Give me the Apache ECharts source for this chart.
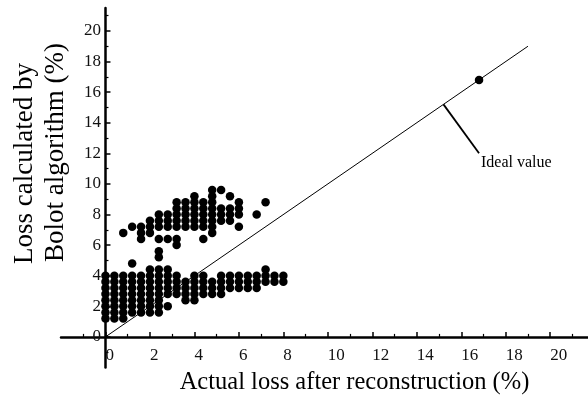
<!DOCTYPE html>
<html>
<head>
<meta charset="utf-8">
<script src="https://cdn.jsdelivr.net/npm/echarts@6/dist/echarts.min.js"></script>
<style>
  html, body { margin: 0; padding: 0; background: #fff; }
  #chart { width: 588px; height: 401px; }
</style>
</head>
<body>
<div id="chart"></div>
<script>
// measured columns of dots (x in %), each with its own list of y values
const colX = [0, 0.4, 0.8, 1.2, 1.6, 2.0, 2.4, 2.8, 3.2, 3.6, 4.0, 4.4, 4.8, 5.2, 5.6, 6.0, 6.4, 6.8, 7.2, 7.6, 8.0]
// lower band of points
const lowerY = [
  [1.2, 1.6, 2.0, 2.4, 2.8, 3.2, 3.6, 4.0],
  [1.2, 1.6, 2.0, 2.4, 2.8, 3.2, 3.6, 4.0],
  [1.2, 1.6, 2.0, 2.4, 2.8, 3.2, 3.6, 4.0],
  [1.6, 2.0, 2.4, 2.8, 3.2, 3.6, 4.0],
  [1.6, 2.0, 2.4, 2.8, 3.2, 3.6, 4.0],
  [1.6, 2.0, 2.4, 2.8, 3.2, 3.6, 4.0, 4.4],
  [1.6, 2.0, 2.4, 2.8, 3.2, 3.6, 4.0, 4.4],
  [2.0, 2.8, 3.2, 3.6, 4.0, 4.4],
  [2.8, 3.2, 3.6, 4.0],
  [2.4, 2.8, 3.2, 3.6],
  [2.4, 2.8, 3.2, 3.6, 4.0],
  [2.8, 3.2, 3.6, 4.0],
  [2.8, 3.2, 3.6],
  [2.8, 3.2, 3.6, 4.0],
  [3.2, 3.6, 4.0],
  [3.2, 3.6, 4.0],
  [3.2, 3.6, 4.0],
  [3.2, 3.6, 4.0],
  [3.6, 4.0, 4.4],
  [3.6, 4.0],
  [3.6, 4.0]
]
// upper band of points
const upperY = [
  [],
  [],
  [6.8],
  [4.8, 7.2],
  [6.4, 6.8, 7.2],
  [6.8, 7.2, 7.6],
  [5.2, 5.6, 6.4, 7.2, 7.6, 8.0],
  [6.4, 7.2, 7.6, 8.0],
  [6.0, 6.4, 7.2, 7.6, 8.0, 8.4, 8.8],
  [7.2, 7.6, 8.0, 8.4, 8.8],
  [7.2, 7.6, 8.0, 8.4, 8.8, 9.2],
  [6.4, 7.2, 7.6, 8.0, 8.4, 8.8],
  [6.8, 7.2, 7.6, 8.0, 8.4, 8.8, 9.2, 9.6],
  [7.6, 8.0, 8.4, 9.6],
  [7.6, 8.0, 8.4, 9.2],
  [7.2, 8.0, 8.4, 8.8],
  [],
  [8.0],
  [8.8],
  [],
  []
]
const farPoint = [[16.8, 16.8]]
const idealLine = [[0, 0], [19, 19]]
const idealPointer = [[15.2, 15.2], [16.8, 12.0]]
const tickValues = [0, 2, 4, 6, 8, 10, 12, 14, 16, 18, 20]

const serif = '"Liberation Serif", "Times New Roman", serif'

const points = []
colX.forEach((x, i) => {
  lowerY[i].forEach(y => points.push([x, y]))
  upperY[i].forEach(y => points.push([x, y]))
})
farPoint.forEach(p => points.push(p))

const chart = echarts.init(document.getElementById('chart'))

function axisCommon() {
  return {
    type: 'value',
    interval: 2,
    min: -2,
    splitLine: { show: false },
    axisLine: { onZero: true, lineStyle: { color: '#000', width: 2.5 } },
    axisTick: {
      inside: true,
      length: 5,
      customValues: tickValues,
      lineStyle: { color: '#000', width: 1.5 }
    },
    minorTick: { show: true, splitNumber: 2, length: 3, lineStyle: { color: '#000', width: 1.2 } },
    axisLabel: {
      customValues: tickValues,
      color: '#111',
      fontFamily: serif,
      fontSize: 17
    }
  }
}

// labels sit at the grid edge, so pull them in to the zero lines
const xAxis = axisCommon()
xAxis.max = 21.7
xAxis.axisLabel.align = 'left'
xAxis.axisLabel.margin = -20

const yAxis = axisCommon()
yAxis.max = 21.5
yAxis.axisLabel.margin = -40

chart.setOption({
  animation: false,
  backgroundColor: '#fff',
  grid: { left: 61, right: 0, top: 8, bottom: 33.5 },
  xAxis: xAxis,
  yAxis: yAxis,
  series: [
    {
      type: 'line',
      data: idealLine,
      symbol: 'none',
      z: 1,
      lineStyle: { color: '#000', width: 1 }
    },
    {
      type: 'line',
      data: idealPointer,
      symbol: 'none',
      z: 1,
      lineStyle: { color: '#000', width: 1.8 }
    },
    {
      type: 'scatter',
      data: points,
      symbolSize: 8.5,
      z: 3,
      itemStyle: { color: '#000', opacity: 1 }
    }
  ],
  graphic: [
    {
      type: 'text', x: 481, y: 163,
      style: { text: 'Ideal value', font: '16px ' + serif, fill: '#000', textVerticalAlign: 'middle' }
    },
    {
      type: 'text', x: 354.5, y: 383,
      style: { text: 'Actual loss after reconstruction (%)', font: '24.5px ' + serif, fill: '#000', textAlign: 'center', textVerticalAlign: 'middle' }
    },
    {
      type: 'text', x: 25, y: 264, rotation: Math.PI / 2,
      style: { text: 'Loss calculated by', font: '27px ' + serif, fill: '#000', textAlign: 'left', textVerticalAlign: 'middle' }
    },
    {
      type: 'text', x: 56, y: 262, rotation: Math.PI / 2,
      style: { text: 'Bolot algorithm (%)', font: '27px ' + serif, fill: '#000', textAlign: 'left', textVerticalAlign: 'middle' }
    }
  ]
})
</script>
</body>
</html>
